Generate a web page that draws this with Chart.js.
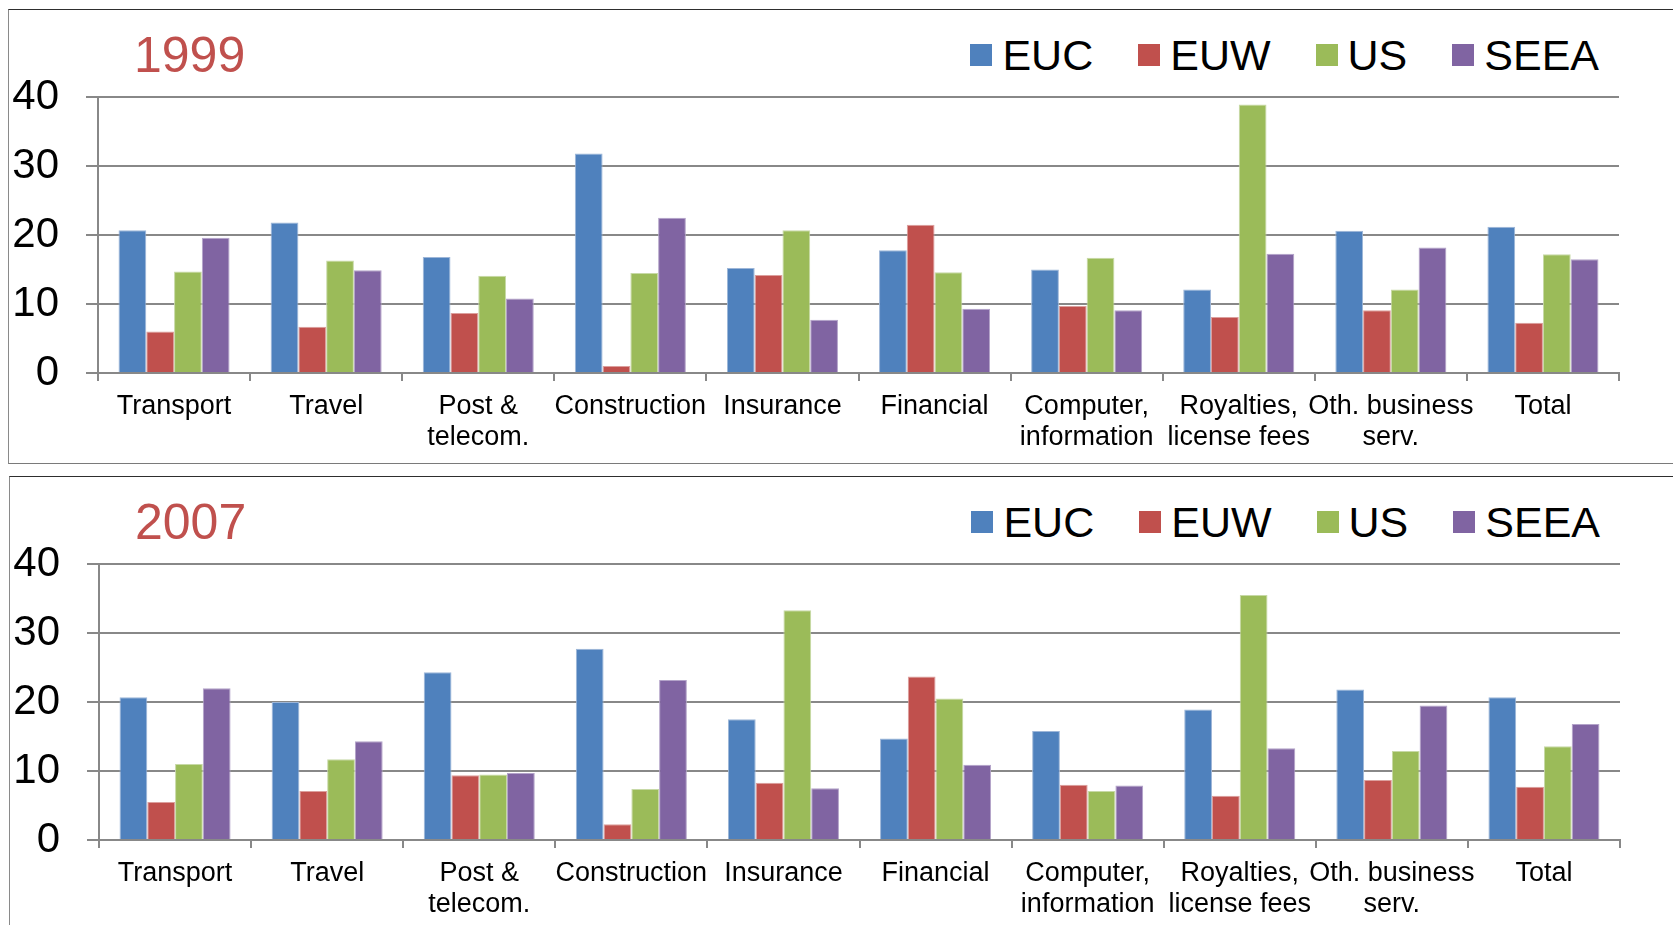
<!DOCTYPE html>
<html>
<head>
<meta charset="utf-8">
<title>Services exports by category</title>
<script src="https://cdn.jsdelivr.net/npm/chart.js@4.4.1/dist/chart.umd.min.js"></script>
<style>
    html, body { margin: 0; padding: 0; background: #fff; overflow: hidden; }
    body { width: 1673px; height: 925px; position: relative; font-family: 'Liberation Sans', Arial, sans-serif; }
    .panel {
        position: absolute;
        width: 1670px;
        border-left: 1px solid #8a8a8a;
        border-top: 1px solid #2e2e2e;
        border-bottom: 1px solid #7a7a7a;
        background: #fff;
    }
    #panel1999 { left: 8px; top: 9px; height: 453px; }
    #panel2007 { left: 9px; top: 476px; height: 460px; }
    .panel canvas { position: absolute; left: 0; top: 0; }
    .year {
        position: absolute; left: 125px; top: 20px;
        font-size: 50px; line-height: 50px; color: #c0504d;
    }
    .legend {
        position: absolute; right: 80px; top: 20px; height: 50px;
        display: flex; align-items: center;
        font-size: 43px; line-height: 50px; color: #000;
    }
    .legend .item { display: flex; align-items: center; margin-left: 45px; }
    .legend .item:first-child { margin-left: 0; }
    .legend .box { width: 22px; height: 22px; margin-right: 10px; }
</style>
</head>
<body>

<div class="panel" id="panel1999">
    <div class="year">1999</div>
    <div class="legend" id="legend1999"></div>
    <canvas id="chart1999" width="1662" height="450"></canvas>
</div>

<div class="panel" id="panel2007">
    <div class="year">2007</div>
    <div class="legend" id="legend2007"></div>
    <canvas id="chart2007" width="1662" height="450"></canvas>
</div>

<script>
// categories on the x axis (multi-line labels as arrays)
var categories = [
    'Transport',
    'Travel',
    ['Post &', 'telecom.'],
    'Construction',
    'Insurance',
    'Financial',
    ['Computer,', 'information'],
    ['Royalties,', 'license fees'],
    ['Oth. business', 'serv.'],
    'Total'
];

var seriesNames = ['EUC', 'EUW', 'US', 'SEEA'];

// 1999
var euc1999  = [20.7, 21.8, 16.8, 31.8, 15.2, 17.8, 15.0, 12.1, 20.6, 21.2];
var euw1999  = [6.0, 6.7, 8.7, 1.0, 14.2, 21.5, 9.7, 8.1, 9.1, 7.3];
var us1999   = [14.7, 16.3, 14.1, 14.5, 20.7, 14.6, 16.7, 38.9, 12.1, 17.2];
var seea1999 = [19.6, 14.9, 10.8, 22.5, 7.7, 9.3, 9.1, 17.3, 18.2, 16.5];

// 2007
var euc2007  = [20.7, 20.0, 24.3, 27.7, 17.5, 14.7, 15.8, 18.9, 21.8, 20.7];
var euw2007  = [5.5, 7.1, 9.4, 2.3, 8.3, 23.7, 8.0, 6.4, 8.7, 7.7];
var us2007   = [11.0, 11.7, 9.5, 7.4, 33.3, 20.5, 7.1, 35.5, 12.9, 13.6];
var seea2007 = [22.0, 14.3, 9.7, 23.2, 7.5, 10.9, 7.9, 13.3, 19.5, 16.8];

// y axis range
var yMin = 0;
var yMax = 40;
var yStep = 10;

var fillColors   = ['#4f81bd', '#c0504d', '#9bbb59', '#8064a2'];
var borderColors = ['#9db6d8', '#dc9f9d', '#c7d9a6', '#b3a3c9'];

Chart.defaults.font.family = "'Liberation Sans', Arial, sans-serif";
Chart.defaults.color = '#000';

function criarGrafico(canvasId, legendId, valores) {
    var datasets = valores.map(function (serie, i) {
        return {
            label: seriesNames[i],
            data: serie,
            backgroundColor: fillColors[i],
            borderColor: borderColors[i],
            borderWidth: 1,
            borderSkipped: 'start',
            categoryPercentage: 0.73,
            barPercentage: 1
        };
    });

    var grafico = new Chart(document.getElementById(canvasId), {
        type: 'bar',
        data: { labels: categories, datasets: datasets },
        options: {
            responsive: false,
            animation: false,
            layout: { padding: { top: 87, left: 0, right: 52, bottom: 0 } },
            plugins: {
                legend: { display: false },
                tooltip: { enabled: false }
            },
            scales: {
                x: {
                    grid: {
                        display: true,
                        drawOnChartArea: false,
                        drawTicks: true,
                        tickLength: 8,
                        color: '#888',
                        lineWidth: 2,
                        offset: true
                    },
                    border: { display: true, color: '#888', width: 2 },
                    ticks: {
                        autoSkip: false,
                        maxRotation: 0,
                        minRotation: 0,
                        padding: 10,
                        font: { size: 27, lineHeight: 1.15 },
                        color: '#000'
                    },
                    afterFit: function (scale) { scale.height = 87; }
                },
                y: {
                    min: yMin,
                    max: yMax,
                    ticks: {
                        stepSize: yStep,
                        padding: 27,
                        font: { size: 42 },
                        color: '#000'
                    },
                    grid: {
                        color: '#888',
                        lineWidth: 2,
                        tickLength: 12,
                        drawTicks: true
                    },
                    border: { display: true, color: '#888', width: 2 },
                    afterFit: function (scale) { scale.width = 89; }
                }
            }
        }
    });

    // legend built from the chart's datasets
    var legenda = document.getElementById(legendId);
    grafico.data.datasets.forEach(function (ds) {
        var item = document.createElement('div');
        item.className = 'item';
        var box = document.createElement('span');
        box.className = 'box';
        box.style.background = ds.backgroundColor;
        var txt = document.createElement('span');
        txt.textContent = ds.label;
        item.appendChild(box);
        item.appendChild(txt);
        legenda.appendChild(item);
    });

    return grafico;
}

criarGrafico('chart1999', 'legend1999', [euc1999, euw1999, us1999, seea1999]);
criarGrafico('chart2007', 'legend2007', [euc2007, euw2007, us2007, seea2007]);
</script>
</body>
</html>
